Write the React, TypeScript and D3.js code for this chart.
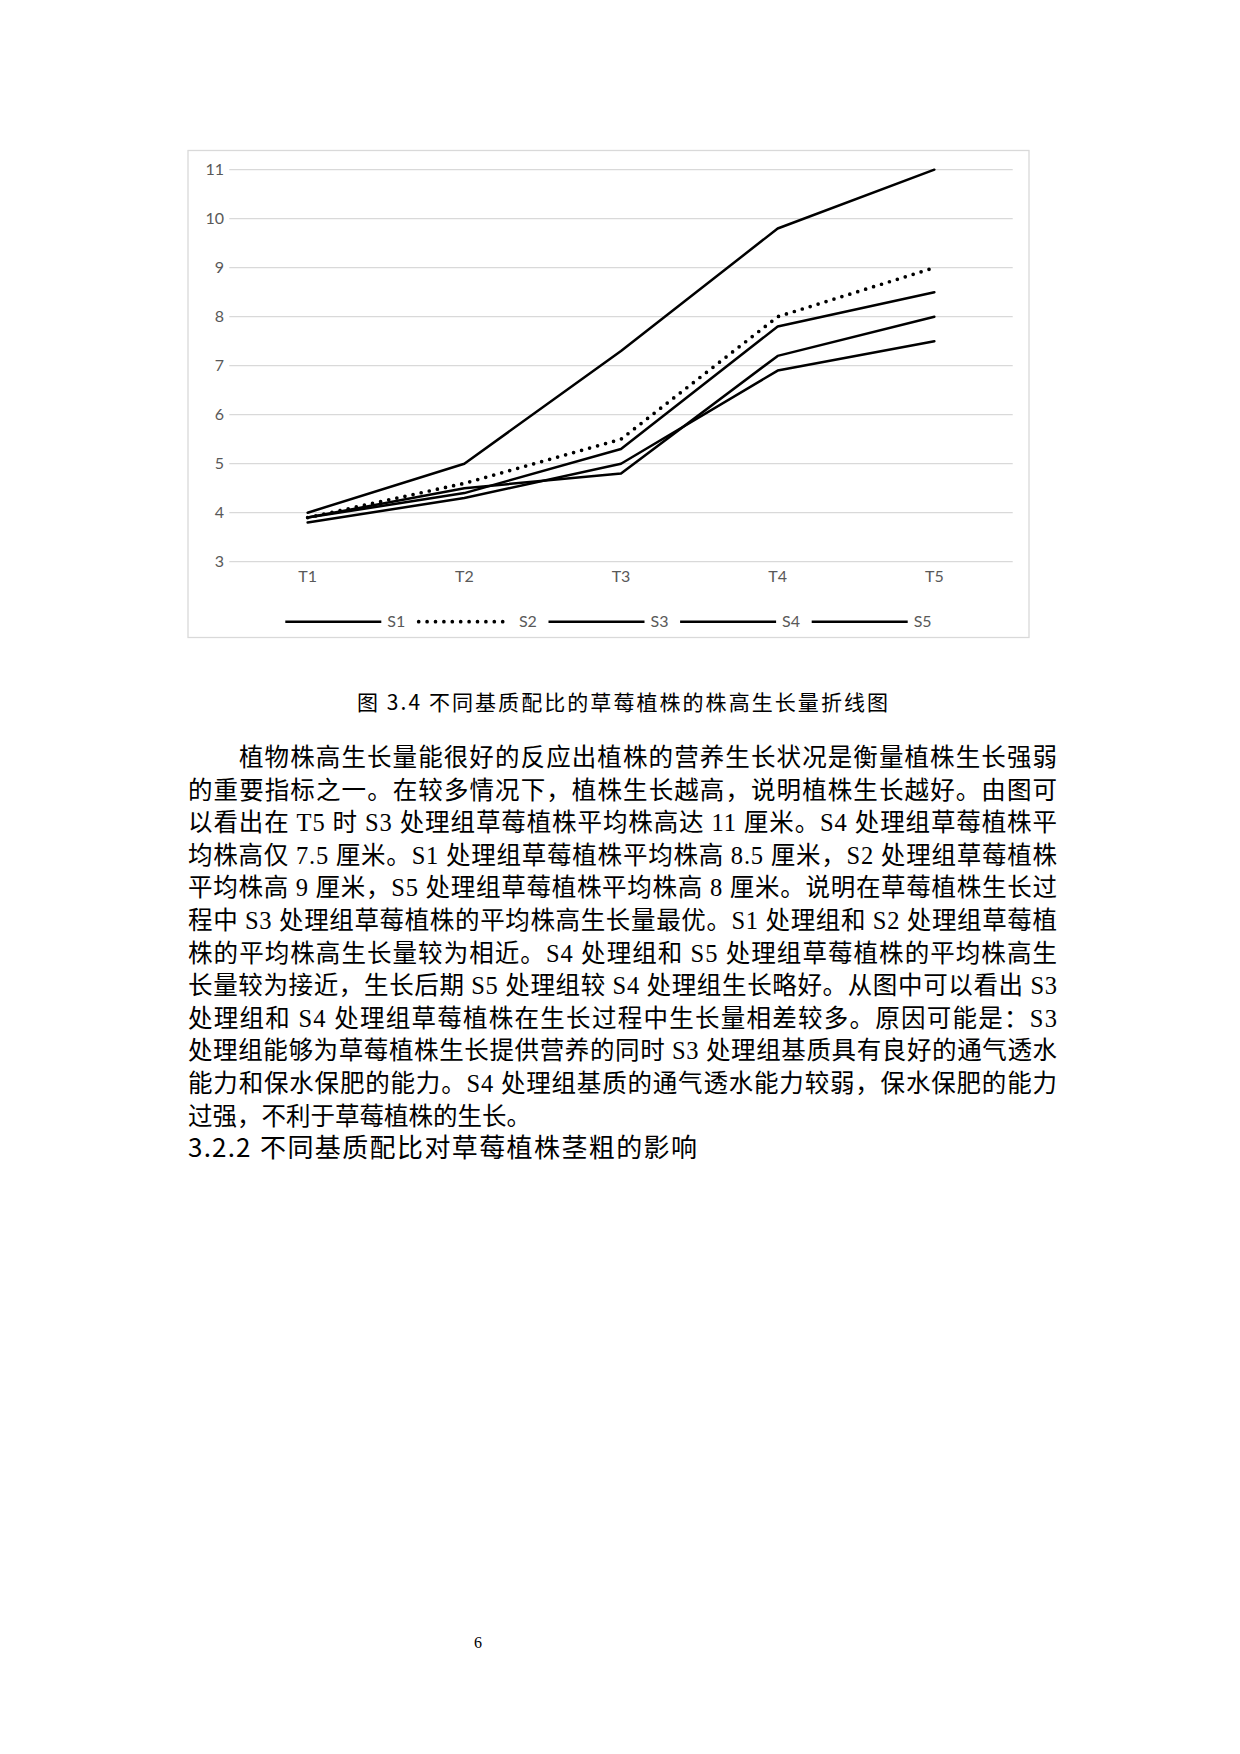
import * as d3 from 'd3';

// chart data
const categories = ['T1', 'T2', 'T3', 'T4', 'T5'];
const seriesNames = ['S1', 'S2', 'S3', 'S4', 'S5'];
const s1 = [3.9, 4.4, 5.3, 7.8, 8.5];
const s2 = [3.9, 4.6, 5.5, 8.0, 9.0];
const s3 = [4.0, 5.0, 7.3, 9.8, 11];
const s4 = [3.8, 4.3, 5.0, 6.9, 7.5];
const s5 = [3.9, 4.5, 4.8, 7.2, 8.0];
const yTicks = [3, 4, 5, 6, 7, 8, 9, 10, 11];

// page text
const caption = '图 3.4 不同基质配比的草莓植株的株高生长量折线图';
const bodyLines = [
  '植物株高生长量能很好的反应出植株的营养生长状况是衡量植株生长强弱',
  '的重要指标之一。在较多情况下，植株生长越高，说明植株生长越好。由图可',
  '以看出在 T5 时 S3 处理组草莓植株平均株高达 11 厘米。S4 处理组草莓植株平',
  '均株高仅 7.5 厘米。S1 处理组草莓植株平均株高 8.5 厘米，S2 处理组草莓植株',
  '平均株高 9 厘米，S5 处理组草莓植株平均株高 8 厘米。说明在草莓植株生长过',
  '程中 S3 处理组草莓植株的平均株高生长量最优。S1 处理组和 S2 处理组草莓植',
  '株的平均株高生长量较为相近。S4 处理组和 S5 处理组草莓植株的平均株高生',
  '长量较为接近，生长后期 S5 处理组较 S4 处理组生长略好。从图中可以看出 S3',
  '处理组和 S4 处理组草莓植株在生长过程中生长量相差较多。原因可能是：S3',
  '处理组能够为草莓植株生长提供营养的同时 S3 处理组基质具有良好的通气透水',
  '能力和保水保肥的能力。S4 处理组基质的通气透水能力较弱，保水保肥的能力',
  '过强，不利于草莓植株的生长。',
];
const headingNum = '3.2.2';
const headingText = '不同基质配比对草莓植株茎粗的影响';
const pageNumber = '6';

const W = 1240;
const H = 1754;

const frame = { x: 188, y: 150.5, w: 841, h: 487 };
const plot = { left: 229.3, right: 1012.7, top: 169.7, bottom: 561.7 };

const gray = '#595959';
const gridColor = '#d9d9d9';
const axisFont = 'Lato, "Open Sans", sans-serif';
const bodyFont = '"Liberation Serif", "Noto Sans CJK SC", serif';
const cjkSans = '"Noto Sans CJK SC", sans-serif';

const App = () => {
  const series = [s1, s2, s3, s4, s5];
  const x = d3.scaleBand<string>().domain(categories).range([plot.left, plot.right]);
  const cx = (c: string) => x(c)! + x.bandwidth() / 2;
  const y = d3.scaleLinear().domain([3, 11]).range([plot.bottom, plot.top]);
  const line = d3
    .line<number>()
    .x((_, i) => cx(categories[i]))
    .y(d => y(d));

  const isDotted = (name: string) => name === 'S2';

  const legendY = 621.7;
  const legendStart = 285.3;
  const legendStep = 131.6;
  const legendLine = 96;

  const bodyLeft = 188;
  const bodyRight = 1057;
  const indent = 51;
  const firstBaseline = 766;
  const lineGap = 32.6;

  return (
    <svg
      width={W}
      height={H}
      viewBox={`0 0 ${W} ${H}`}
      style={{ position: 'absolute', left: 0, top: 0, background: '#fff' }}
    >
      <rect x={0} y={0} width={W} height={H} fill="#fff" />
      {/* chart frame */}
      <rect
        x={frame.x}
        y={frame.y}
        width={frame.w}
        height={frame.h}
        fill="#fff"
        stroke={gridColor}
        strokeWidth={1.3}
      />
      {/* grid + y labels */}
      {yTicks.map(t => (
        <g key={t}>
          <line x1={plot.left} x2={plot.right} y1={y(t)} y2={y(t)} stroke={gridColor} strokeWidth={1.3} />
          <text
            x={224}
            y={y(t)}
            dy="0.36em"
            textAnchor="end"
            fontFamily={axisFont}
            fontSize={16}
            fill={gray}
          >
            {t}
          </text>
        </g>
      ))}
      {/* x labels */}
      {categories.map(c => (
        <text
          key={c}
          x={cx(c)}
          y={582}
          textAnchor="middle"
          fontFamily={axisFont}
          fontSize={16}
          fill={gray}
        >
          {c}
        </text>
      ))}
      {/* series lines */}
      {series.map((d, i) => (
        <path
          key={seriesNames[i]}
          d={line(d)!}
          fill="none"
          stroke="#000"
          strokeWidth={isDotted(seriesNames[i]) ? 3.7 : 2.5}
          strokeLinecap="round"
          strokeLinejoin="round"
          strokeDasharray={isDotted(seriesNames[i]) ? '0 8.3' : undefined}
        />
      ))}
      {/* legend */}
      {seriesNames.map((name, i) => {
        const lx = legendStart + i * legendStep;
        return (
          <g key={name}>
            <line
              x1={lx + (isDotted(name) ? 1.8 : 0)}
              x2={lx + legendLine - (isDotted(name) ? 1.8 : 0)}
              y1={legendY}
              y2={legendY}
              stroke="#000"
              strokeWidth={isDotted(name) ? 3.7 : 2.5}
              strokeLinecap={isDotted(name) ? 'round' : 'butt'}
              strokeDasharray={isDotted(name) ? '0 8.4' : undefined}
            />
            <text
              x={lx + legendLine + 6}
              y={legendY}
              dy="0.36em"
              fontFamily={axisFont}
              fontSize={16}
              fill={gray}
            >
              {name}
            </text>
          </g>
        );
      })}

      {/* caption */}
      <text
        x={357}
        y={710}
        fontFamily={cjkSans}
        fontWeight={400}
        fontSize={21}
        fill="#000"
        textLength={531}
        lengthAdjust="spacing"
      >
        {caption}
      </text>

      {/* body paragraph */}
      {bodyLines.map((t, i) => {
        const last = i === bodyLines.length - 1;
        const x0 = i === 0 ? bodyLeft + indent : bodyLeft;
        return (
          <text
            key={i}
            x={x0}
            y={firstBaseline + i * lineGap}
            fontFamily={bodyFont}
            fontSize={24.5}
            fill="#000"
            textLength={last ? undefined : bodyRight - x0}
            lengthAdjust="spacing"
          >
            {t}
          </text>
        );
      })}

      {/* section heading */}
      <text x={bodyLeft} y={firstBaseline + 12 * lineGap} fontFamily={cjkSans} fontSize={26} fill="#000">
        <tspan letterSpacing={1.2}>{headingNum}</tspan>
        <tspan x={bodyLeft + 72} textLength={437} lengthAdjust="spacing">
          {headingText}
        </tspan>
      </text>

      {/* page number */}
      <text x={478} y={1648} textAnchor="middle" fontFamily={bodyFont} fontSize={16} fill="#000">
        {pageNumber}
      </text>
    </svg>
  );
};

export default App;
